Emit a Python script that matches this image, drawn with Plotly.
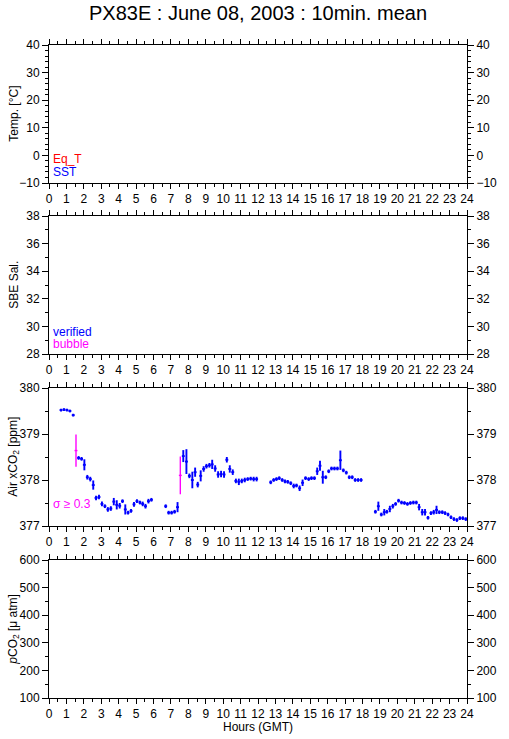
import plotly.graph_objects as go

# ---------------- data ----------------
hours_ticks = list(range(0, 25))

t_air = [
    0.69, 0.86, 1.03, 1.20, 1.39, 1.55, 1.70, 1.87, 2.03, 2.20, 2.37, 2.54, 2.70, 2.87, 3.04, 3.21,
    3.38, 3.55, 3.72, 3.89, 4.06, 4.22, 4.38, 4.54, 4.71, 4.88, 5.05, 5.22, 5.38, 5.54, 5.71, 5.88,
    6.70, 6.87, 7.04, 7.21, 7.38, 7.54, 7.71, 7.89, 8.06, 8.23, 8.39, 8.54, 8.71, 8.88, 9.04, 9.21,
    9.37, 9.54, 9.71, 9.88, 10.05, 10.21, 10.38, 10.55, 10.73, 10.90, 11.07, 11.24, 11.41, 11.58, 11.75, 11.92,
    12.73, 12.90, 13.06, 13.22, 13.39, 13.55, 13.71, 13.88, 14.05, 14.21, 14.39, 14.56, 14.73, 14.91, 15.07, 15.24,
    15.40, 15.56, 15.72, 15.89, 16.06, 16.22, 16.39, 16.56, 16.73, 16.90, 17.07, 17.24, 17.41, 17.58, 17.75, 17.92,
    18.74, 18.91, 19.08, 19.25, 19.40, 19.57, 19.74, 19.90, 20.07, 20.24, 20.41, 20.58, 20.75, 20.92, 21.09, 21.25,
    21.43, 21.59, 21.76, 21.93, 22.09, 22.25, 22.41, 22.58, 22.74, 22.91, 23.08, 23.25, 23.42, 23.59, 23.76, 23.93,
]
xco2_air = [
    379.52, 379.53, 379.52, 379.50, 379.41, 378.64, 378.48, 378.46, 378.33, 378.06, 378.02, 377.89, 377.61, 377.63, 377.48, 377.43,
    377.36, 377.38, 377.53, 377.46, 377.44, 377.54, 377.36, 377.29, 377.33, 377.47, 377.54, 377.51, 377.48, 377.43, 377.54, 377.57,
    377.43, 377.29, 377.29, 377.31, 377.41, 378.10, 378.52, 378.40, 378.09, 378.00, 378.17, 377.90, 378.09, 378.24, 378.30, 378.32,
    378.34, 378.25, 378.12, 378.13, 378.12, 378.44, 378.24, 378.17, 377.98, 377.96, 377.98, 378.00, 378.02, 378.03, 378.02, 378.02,
    377.95, 378.00, 378.02, 378.04, 378.00, 377.97, 377.96, 377.93, 377.87, 377.88, 377.82, 377.94, 378.04, 378.02, 378.04, 378.04,
    378.19, 378.31, 378.06, 378.06, 378.19, 378.25, 378.25, 378.25, 378.43, 378.21, 378.16, 378.06, 378.06, 378.00, 378.00, 378.00,
    377.31, 377.43, 377.25, 377.30, 377.31, 377.37, 377.43, 377.48, 377.55, 377.51, 377.50, 377.48, 377.50, 377.51, 377.51, 377.41,
    377.30, 377.30, 377.18, 377.28, 377.30, 377.35, 377.30, 377.30, 377.28, 377.25, 377.19, 377.15, 377.13, 377.17, 377.17, 377.15,
]
sigma_air = [
    0.03, 0.03, 0.03, 0.03, 0.03, 0.35, 0.04, 0.04, 0.12, 0.05, 0.05, 0.10, 0.05, 0.05, 0.05, 0.04,
    0.05, 0.05, 0.08, 0.10, 0.06, 0.04, 0.11, 0.04, 0.04, 0.05, 0.04, 0.04, 0.05, 0.05, 0.05, 0.04,
    0.04, 0.04, 0.04, 0.04, 0.11, 0.41, 0.13, 0.27, 0.05, 0.18, 0.10, 0.06, 0.12, 0.06, 0.05, 0.05,
    0.10, 0.07, 0.07, 0.07, 0.07, 0.06, 0.08, 0.06, 0.05, 0.07, 0.05, 0.05, 0.04, 0.04, 0.05, 0.05,
    0.04, 0.04, 0.04, 0.04, 0.04, 0.04, 0.04, 0.04, 0.05, 0.04, 0.06, 0.07, 0.04, 0.04, 0.04, 0.04,
    0.08, 0.11, 0.14, 0.04, 0.04, 0.04, 0.04, 0.04, 0.21, 0.04, 0.04, 0.04, 0.04, 0.04, 0.04, 0.04,
    0.04, 0.10, 0.04, 0.07, 0.04, 0.07, 0.05, 0.04, 0.04, 0.04, 0.04, 0.04, 0.04, 0.04, 0.04, 0.07,
    0.07, 0.07, 0.04, 0.04, 0.05, 0.09, 0.04, 0.04, 0.04, 0.04, 0.04, 0.04, 0.04, 0.04, 0.04, 0.04,
]
SIGMA_LIMIT = 0.3
HALF_BIN = 1.0 / 12.0   # 10-minute mean -> +/- 5 min

title_text = "PX83E : June 08, 2003 : 10min. mean"
ylabels = ["Temp. [°C]", "SBE Sal.", "Air xCO<sub>2</sub> [ppm]", "<i>p</i>CO<sub>2</sub> [μ atm]"]
yranges = [[-10, 40], [28, 38], [377, 380], [100, 600]]
ydticks = [10, 2, 1, 100]
yminor = [2, 1, 0.5, 50]

BLUE = "#0000FF"
MAGENTA = "#FF00FF"
RED = "#FF0000"
FONT = "Liberation Sans, Arial, sans-serif"

# ---------------- geometry ----------------
W, H = 509, 739
L, R, T, B = 49, 34, 45, 41
plot_h = H - T - B
panel_px = [(45, 183), (216, 354), (388, 526), (560, 698)]


def frac(ypx):
    return (H - B - ypx) / plot_h


domains = [[frac(b), frac(t)] for (t, b) in panel_px]

fig = go.Figure()

# split by sigma
blue_idx = [i for i, s in enumerate(sigma_air) if s < SIGMA_LIMIT]
mag_idx = [i for i, s in enumerate(sigma_air) if s >= SIGMA_LIMIT]

for idx, col, thick in [(blue_idx, BLUE, 1.9), (mag_idx, MAGENTA, 1.4)]:
    fig.add_trace(go.Scatter(
        x=[t_air[i] for i in idx],
        y=[xco2_air[i] for i in idx],
        mode="markers",
        marker=dict(size=1, opacity=0, color=col),
        error_x=dict(type="constant", value=HALF_BIN, width=0, thickness=thick, color=col),
        error_y=dict(type="data", array=[sigma_air[i] for i in idx], width=0, thickness=thick, color=col),
        xaxis="x3", yaxis="y3", showlegend=False, hoverinfo="skip",
    ))

# dummy traces so every axis (incl. right-hand overlays) is drawn
for k in range(1, 5):
    ax = "" if k == 1 else str(k)
    fig.add_trace(go.Scatter(x=[None], y=[None], xaxis="x" + ax, yaxis="y" + ax, showlegend=False))
    fig.add_trace(go.Scatter(x=[None], y=[None], xaxis="x" + ax, yaxis="y" + str(k + 4), showlegend=False))

axis_common = dict(
    showline=True, linecolor="black", linewidth=1,
    ticks="outside", ticklen=6, tickwidth=1, tickcolor="black",
    showgrid=False, zeroline=False,
    tickfont=dict(family=FONT, size=12, color="black"),
)

layout = dict(
    width=W, height=H,
    margin=dict(l=L, r=R, t=T, b=B, pad=0),
    paper_bgcolor="white", plot_bgcolor="white",
    font=dict(family=FONT, size=12, color="black"),
    title=dict(text=title_text, x=0.5, xref="paper", xanchor="center",
               y=1 - 13 / H, yref="container", yanchor="middle",
               font=dict(family=FONT, size=20, color="black")),
    showlegend=False,
)

for k in range(1, 5):
    ax = "" if k == 1 else str(k)
    layout["xaxis" + ax] = dict(
        axis_common, domain=[0, 1], range=[0, 24], tick0=0, dtick=1,
        tickvals=hours_ticks, ticktext=[str(h) for h in hours_ticks],
        mirror="ticks", anchor="y" + ax, ticklen=5,
        minor=dict(dtick=0.5, tick0=0, ticks="outside", ticklen=3, tickcolor="black", tickwidth=1),
    )
    layout["yaxis" + ax] = dict(
        axis_common, domain=domains[k - 1], range=yranges[k - 1], tick0=yranges[k - 1][0],
        dtick=ydticks[k - 1], mirror="ticks", anchor="x" + ax,
        minor=dict(dtick=yminor[k - 1], ticks="outside", ticklen=3, tickcolor="black", tickwidth=1),
    )
    layout["yaxis" + str(k + 4)] = dict(
        axis_common, range=yranges[k - 1], tick0=yranges[k - 1][0], dtick=ydticks[k - 1],
        overlaying="y" + ax, side="right", anchor="x" + ax,
        minor=dict(dtick=yminor[k - 1], ticks="outside", ticklen=3, tickcolor="black", tickwidth=1),
    )

fig.update_layout(**layout)

ann = []
for k in range(4):
    t, b = panel_px[k]
    ann.append(dict(text=ylabels[k], x=(13 - L) / (W - L - R), y=frac((t + b) / 2),
                    xref="paper", yref="paper", textangle=-90, showarrow=False,
                    xanchor="center", yanchor="middle", font=dict(family=FONT, size=12)))

ann.append(dict(text="Hours (GMT)", x=0.5, y=frac(727), xref="paper", yref="paper",
                showarrow=False, xanchor="center", yanchor="middle", font=dict(family=FONT, size=12)))


def note(txt, ypx, col):
    return dict(text=txt, x=(51 - L) / (W - L - R), y=frac(ypx), xref="paper", yref="paper",
                showarrow=False, xanchor="left", yanchor="middle",
                font=dict(family=FONT, size=12, color=col))


ann += [note("Eq_T", 159, RED), note("SST", 172, BLUE),
        note("verified", 332, BLUE), note("bubble", 344, MAGENTA),
        note("σ ≥ 0.3", 504, MAGENTA)]
fig.update_layout(annotations=ann)

fig.write_html(
    "out.html",
    config={"displayModeBar": False},
    post_script="document.body.style.margin='0';document.body.style.overflow='hidden';",
)
